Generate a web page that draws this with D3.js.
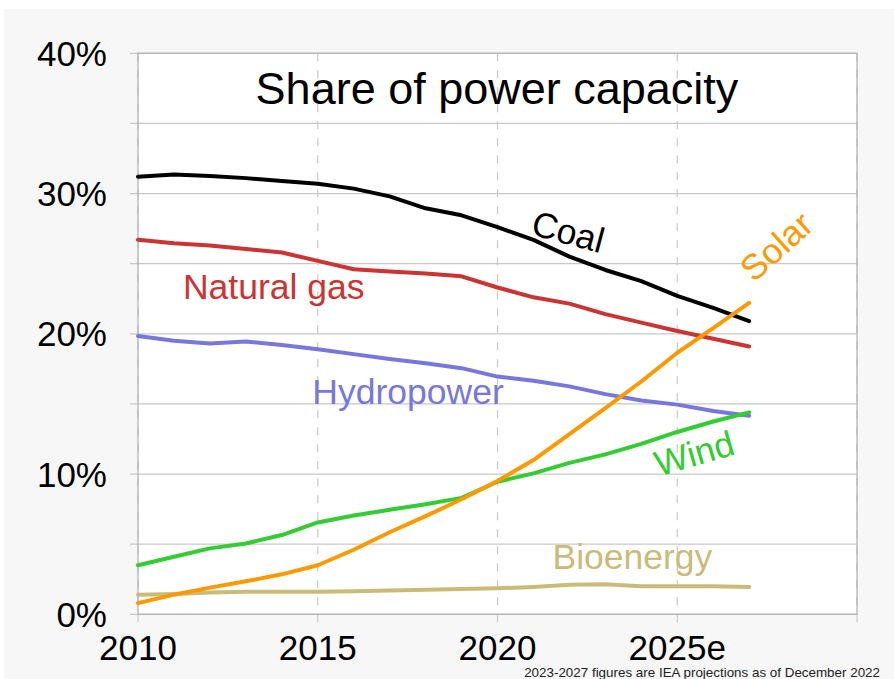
<!DOCTYPE html>
<html>
<head>
<meta charset="utf-8">
<script src="https://cdn.jsdelivr.net/npm/d3@7"></script>
<style>
	body { margin: 0; background: #fff; }
	svg { display: block; font-family: "Liberation Sans", Arial, sans-serif; }
</style>
</head>
<body>
<svg id="chart"></svg>
<script>
var years = [2010, 2011, 2012, 2013, 2014, 2015, 2016, 2017, 2018, 2019, 2020, 2021, 2022, 2023, 2024, 2025, 2026, 2027];
var coal = [31.2, 31.35, 31.25, 31.1, 30.9, 30.7, 30.35, 29.8, 28.95, 28.45, 27.6, 26.7, 25.5, 24.55, 23.75, 22.7, 21.85, 20.9];
var gas = [26.7, 26.45, 26.3, 26.05, 25.8, 25.2, 24.6, 24.45, 24.3, 24.1, 23.3, 22.6, 22.15, 21.4, 20.8, 20.2, 19.65, 19.1];
var hydro = [19.85, 19.5, 19.3, 19.45, 19.2, 18.9, 18.55, 18.2, 17.9, 17.55, 16.95, 16.65, 16.25, 15.7, 15.25, 14.95, 14.5, 14.15];
var wind = [3.5, 4.1, 4.7, 5.05, 5.65, 6.55, 7.05, 7.45, 7.85, 8.3, 9.45, 10.05, 10.8, 11.4, 12.15, 13.0, 13.75, 14.4];
var solar = [0.8, 1.4, 1.9, 2.35, 2.85, 3.5, 4.6, 5.85, 7.0, 8.2, 9.5, 11.0, 12.85, 14.7, 16.6, 18.65, 20.4, 22.2];
var bio = [1.4, 1.45, 1.55, 1.6, 1.6, 1.6, 1.65, 1.7, 1.75, 1.8, 1.85, 1.95, 2.1, 2.15, 2.0, 2.0, 2.0, 1.95];

var yTicks = [0, 10, 20, 30, 40];
var xTicks = [2010, 2015, 2020, 2025];
var xTickLabels = ["2010", "2015", "2020", "2025e"];

var width = 894, height = 679;

var svg = d3.select("#chart")
	.attr("width", width)
	.attr("height", height);

// background
svg.append("rect")
	.attr("x", 4).attr("y", 9)
	.attr("width", 890).attr("height", 670)
	.attr("fill", "#f7f7f7");

var xScale = d3.scaleLinear().domain([2010, 2030]).range([138, 857]);
var yScale = d3.scaleLinear().domain([0, 40]).range([614.3, 53.3]);

svg.append("rect")
	.attr("x", xScale(2010)).attr("y", yScale(40))
	.attr("width", xScale(2030) - xScale(2010))
	.attr("height", yScale(0) - yScale(40))
	.attr("fill", "#fff");

// horizontal grid every 5%
svg.append("g")
	.selectAll("line")
	.data(d3.range(0, 41, 5))
	.enter()
	.append("line")
		.attr("x1", 130)
		.attr("x2", xScale(2030))
		.attr("y1", function(d) { return yScale(d); })
		.attr("y2", function(d) { return yScale(d); })
		.attr("stroke", "#c8c8c8")
		.attr("stroke-width", 1.2);

// vertical dashed grid
svg.append("g")
	.selectAll("line")
	.data([2010, 2015, 2020, 2025, 2030])
	.enter()
	.append("line")
		.attr("x1", function(d) { return xScale(d); })
		.attr("x2", function(d) { return xScale(d); })
		.attr("y1", yScale(40))
		.attr("y2", yScale(0) + 11)
		.attr("stroke", "#c8c8c8")
		.attr("stroke-width", 1.2)
		.attr("stroke-dasharray", "8,9");

// frame
svg.append("rect")
	.attr("x", xScale(2010)).attr("y", yScale(40))
	.attr("width", xScale(2030) - xScale(2010))
	.attr("height", yScale(0) - yScale(40))
	.attr("fill", "none")
	.attr("stroke", "#b4b4b4")
	.attr("stroke-width", 1.3);

// y tick labels
svg.append("g")
	.selectAll("text")
	.data(yTicks)
	.enter()
	.append("text")
		.attr("x", 107)
		.attr("y", function(d) { return yScale(d); })
		.attr("dy", "0.36em")
		.attr("text-anchor", "end")
		.attr("font-size", 35)
		.attr("fill", "#000")
		.text(function(d) { return d + "%"; });

// x tick labels
svg.append("g")
	.selectAll("text")
	.data(xTicks)
	.enter()
	.append("text")
		.attr("x", function(d) { return xScale(d); })
		.attr("y", 660)
		.attr("text-anchor", "middle")
		.attr("font-size", 35)
		.attr("fill", "#000")
		.text(function(d, i) { return xTickLabels[i]; });

// title
svg.append("text")
	.attr("x", 497)
	.attr("y", 104)
	.attr("text-anchor", "middle")
	.attr("font-size", 45)
	.attr("fill", "#000")
	.text("Share of power capacity");

// footnote
svg.append("text")
	.attr("x", 880)
	.attr("y", 677)
	.attr("text-anchor", "end")
	.attr("font-size", 13.4)
	.attr("fill", "#222")
	.text("2023-2027 figures are IEA projections as of December 2022");

var line = d3.line()
	.x(function(d, i) { return xScale(years[i]); })
	.y(function(d) { return yScale(d); });

var series = [
	{ name: "Bioenergy", values: bio, color: "#cbbb78" },
	{ name: "Hydropower", values: hydro, color: "#7777dd" },
	{ name: "Natural gas", values: gas, color: "#cc3333" },
	{ name: "Coal", values: coal, color: "#000000" },
	{ name: "Wind", values: wind, color: "#33cc33" },
	{ name: "Solar", values: solar, color: "#ff9900" }
];

svg.append("g")
	.selectAll("path")
	.data(series)
	.enter()
	.append("path")
		.attr("d", function(d) { return line(d.values); })
		.attr("fill", "none")
		.attr("stroke", function(d) { return d.color; })
		.attr("stroke-width", 4)
		.attr("stroke-linejoin", "round")
		.attr("stroke-linecap", "round");

// series labels (placed in data coords)
var labels = [
	{ text: "Coal", year: 2021.97, value: 27.3, rot: 15, anchor: "middle", color: "#000000" },
	{ text: "Solar", year: 2027.75, value: 26.25, rot: -42, anchor: "middle", color: "#ff9900" },
	{ text: "Wind", year: 2025.47, value: 11.5, rot: -16, anchor: "middle", color: "#33cc33" },
	{ text: "Natural gas", year: 2011.25, value: 22.45, rot: 0, anchor: "start", color: "#cc3333" },
	{ text: "Hydropower", year: 2014.85, value: 15.02, rot: 0, anchor: "start", color: "#7777dd" },
	{ text: "Bioenergy", year: 2021.53, value: 3.24, rot: 0, anchor: "start", color: "#cbbb78" }
];

svg.append("g")
	.selectAll("text")
	.data(labels)
	.enter()
	.append("text")
		.attr("transform", function(d) {
			return "translate(" + xScale(d.year) + "," + yScale(d.value) + ")rotate(" + d.rot + ")";
		})
		.attr("dy", function(d) { return d.rot ? "0.36em" : 0; })
		.attr("text-anchor", function(d) { return d.anchor; })
		.attr("font-size", 35.5)
		.attr("fill", function(d) { return d.color; })
		.text(function(d) { return d.text; });
</script>
</body>
</html>
